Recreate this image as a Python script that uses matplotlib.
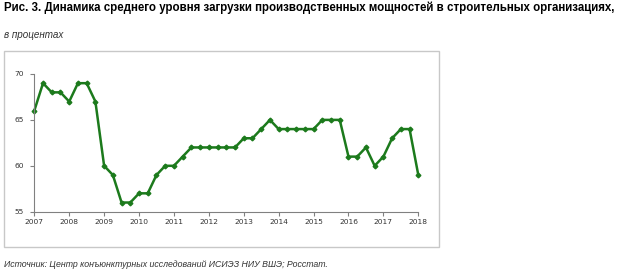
import matplotlib
matplotlib.use("Agg")
import matplotlib.pyplot as plt
from matplotlib.patches import Rectangle
import numpy as np

years = [2007, 2008, 2009, 2010, 2011, 2012, 2013, 2014, 2015, 2016, 2017, 2018]
values = [66, 69, 68, 68,
          67, 69, 69, 67,
          60, 59, 56, 56,
          57, 57, 59, 60,
          60, 61, 62, 62,
          62, 62, 62, 62,
          63, 63, 64, 65,
          64, 64, 64, 64,
          64, 65, 65, 65,
          61, 61, 62, 60,
          61, 63, 64, 64,
          59]
yticks = [55, 60, 65, 70]
title = "Рис. 3. Динамика среднего уровня загрузки производственных мощностей в строительных организациях,"
subtitle = "в процентах"
source = "Источник: Центр конъюнктурных исследований ИСИЭЗ НИУ ВШЭ; Росстат."

x = [years[0] + i * 0.25 for i in range(len(values))]

W, H = 618, 274
fig = plt.figure(figsize=(W / 100, H / 100), dpi=100)
fig.patch.set_facecolor("white")

fig.text(4 / W, 1 - 11 / H, title, fontsize=8.3, fontweight="bold",
         family=["Liberation Sans", "DejaVu Sans"],
         color="#000000", va="baseline", ha="left")
fig.text(4 / W, 1 - 38 / H, subtitle, fontsize=7.1, style="italic",
         family=["Liberation Sans", "DejaVu Sans"], color="#333333",
         va="baseline", ha="left")
fig.text(4 / W, 1 - 267 / H, source, fontsize=6.35, style="italic",
         family=["Liberation Sans", "DejaVu Sans"], color="#333333",
         va="baseline", ha="left")

fig.patches.append(Rectangle((4 / W, 1 - 247 / H), 435 / W, 196 / H,
                             transform=fig.transFigure, fill=False,
                             edgecolor="#c8c8c8", linewidth=1.0))

ax = fig.add_axes([34.3 / W, 1 - 211.7 / H, (418.3 - 34.3) / W, (211.7 - 74) / H])
ax.plot(x, values, color="#1c7a1c", linewidth=1.8, marker="D", markersize=2.4,
        solid_joinstyle="round", clip_on=False)
ax.set_xlim(years[0], years[-1])
ax.set_ylim(yticks[0], yticks[-1])
ax.set_xticks(years)
ax.set_xticklabels([str(y) for y in years])
ax.set_yticks(yticks)
for s in ["top", "right"]:
    ax.spines[s].set_visible(False)
for s in ["left", "bottom"]:
    ax.spines[s].set_color("#808080")
    ax.spines[s].set_linewidth(0.8)
ax.tick_params(axis="both", direction="out", length=3, width=0.8, color="#808080",
               labelsize=5.4, labelcolor="#333333")
ax.tick_params(axis="x", pad=2.5)
ax.tick_params(axis="y", pad=4.5)
for lab in ax.get_xticklabels() + ax.get_yticklabels():
    lab.set_family("DejaVu Sans")

fig.savefig("out.png", dpi=100, facecolor="white")
